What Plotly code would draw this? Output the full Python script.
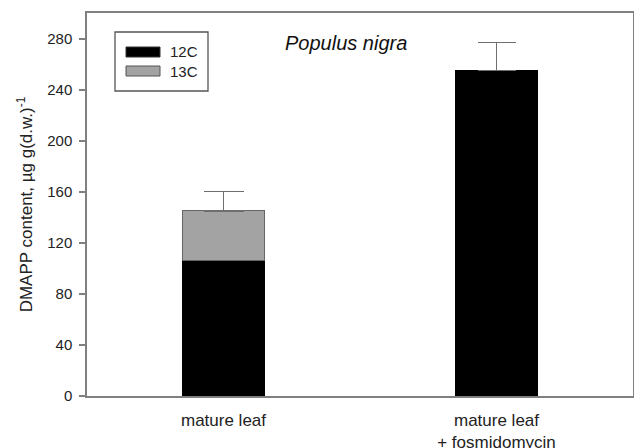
import plotly.graph_objects as go

categories = ["mature leaf", "mature leaf<br>+ fosmidomycin"]
c12 = [106.5, 255.0]
c13 = [38.5, None]
err_12 = [None, 22.0]
err_13 = [15.0, None]
series_names = ["12C", "13C"]
y_ticks = [0, 40, 80, 120, 160, 200, 240, 280]

BLACK = "#000000"
GREY = "#a3a3a3"
AXIS = "#808080"
ERR = "#6e6e6e"
FONT = "Liberation Sans, Arial, sans-serif"

fig = go.Figure()
fig.add_trace(go.Bar(
    x=categories, y=c12, name=series_names[0], width=0.30,
    marker=dict(color=BLACK, line=dict(color=BLACK, width=1)),
    error_y=dict(type="data", array=err_12, symmetric=False, arrayminus=[None, None],
                 color=ERR, thickness=1.5, width=19),
))
fig.add_trace(go.Bar(
    x=categories, y=c13, name=series_names[1], width=0.30,
    marker=dict(color=GREY, line=dict(color="#666666", width=1)),
    error_y=dict(type="data", array=err_13, symmetric=False, arrayminus=[None, None],
                 color=ERR, thickness=1.5, width=20),
))

# manual legend box (positions in axis-domain fractions)
def px_x(p):
    return (p - 87) / 546.0

def px_y(p):
    return (396 - p) / 383.0

shapes = [
    dict(type="rect", xref="x domain", yref="y domain",
         x0=px_x(115), x1=px_x(208), y0=px_y(91), y1=px_y(32),
         line=dict(color="#555555", width=1.3), fillcolor="white"),
    dict(type="rect", xref="x domain", yref="y domain",
         x0=px_x(126), x1=px_x(160), y0=px_y(57), y1=px_y(47),
         line=dict(color="#333333", width=1), fillcolor=BLACK),
    dict(type="rect", xref="x domain", yref="y domain",
         x0=px_x(126), x1=px_x(160), y0=px_y(76), y1=px_y(66),
         line=dict(color="#555555", width=1), fillcolor=GREY),
]
annotations = [
    dict(xref="x domain", yref="y domain", x=px_x(168), y=px_y(52),
         text=series_names[0], showarrow=False, xanchor="left", yanchor="middle",
         font=dict(family=FONT, size=15, color="#222222")),
    dict(xref="x domain", yref="y domain", x=px_x(168), y=px_y(71),
         text=series_names[1], showarrow=False, xanchor="left", yanchor="middle",
         font=dict(family=FONT, size=15, color="#222222")),
    dict(xref="x domain", yref="y domain", x=px_x(346), y=px_y(43),
         text="<i>Populus nigra</i>", showarrow=False, xanchor="center", yanchor="middle",
         font=dict(family=FONT, size=20, color="#111111")),
]

fig.update_layout(
    width=634, height=448,
    margin=dict(l=87, r=1, t=13, b=52),
    paper_bgcolor="white", plot_bgcolor="white",
    barmode="stack", showlegend=False,
    font=dict(family=FONT, size=15, color="#222222"),
    shapes=shapes, annotations=annotations,
    xaxis=dict(
        showline=True, linecolor=AXIS, linewidth=1.5, mirror=True,
        ticks="", showgrid=False, range=[-0.5, 1.5], automargin=False,
        ticklabelstandoff=8,
        tickfont=dict(size=17, color="#222222"),
    ),
    yaxis=dict(
        showline=True, linecolor=AXIS, linewidth=1.5, mirror=True,
        ticks="outside", ticklen=6, tickcolor=AXIS, tickwidth=1.5,
        tickvals=y_ticks, range=[0, 300], showgrid=False, zeroline=False,
        automargin=False, ticklabelstandoff=4,
        tickfont=dict(size=15, color="#222222"),
        title=dict(text="DMAPP content, µg g(d.w.)<sup>-1</sup>", standoff=10,
                   font=dict(size=17, color="#222222")),
    ),
)

fig.write_html("out.html")
